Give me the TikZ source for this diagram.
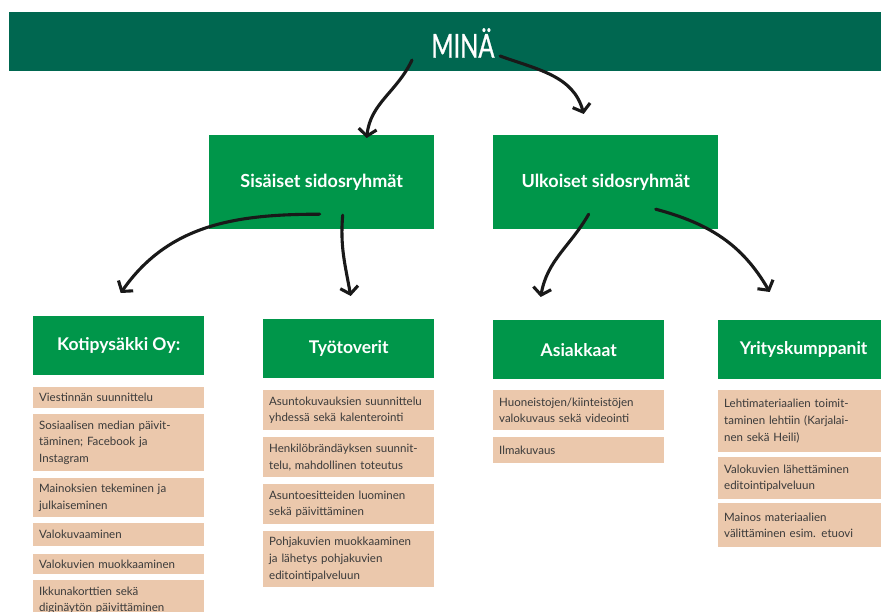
\documentclass[tikz,border=0pt]{standalone}
\usepackage{fontspec}
\setmainfont{Lato}
\newfontfamily\narrowfont[FakeStretch=0.72, FakeBold=0.8]{Lato}
\usetikzlibrary{positioning}
\usetikzlibrary{calc}
\usetikzlibrary{arrows.meta}
\definecolor{bannergreen}{HTML}{006750}
\definecolor{groupgreen}{HTML}{00964A}
\definecolor{taskbeige}{HTML}{EBC8AC}
\definecolor{inkgray}{HTML}{3A3A3A}
\tikzset{
	group/.style={fill=groupgreen, text=white, anchor=north west, inner sep=0pt, align=center,
		font=\bfseries\fontsize{17.5}{20}\selectfont},
	task/.style={fill=taskbeige, text=inkgray, anchor=north west, inner xsep=6pt, inner ysep=2pt,
		text width=159pt, align=left, font=\fontsize{11.5}{16.7}\selectfont},
	sketch/.style={line width=3.1pt, draw=black!90, line cap=round,
		-{Straight Barb[length=7pt,width=18pt]}}
}
\newcommand{\taskbox}[5]{
	\node[task, minimum height=#4] (#1) at (#2,-#3) {#5};
}

\begin{document}
\begin{tikzpicture}[x=1pt, y=1pt]
	\clip (0,0) rectangle (881,-612);

	%top banner
	\fill[bannergreen] (9,-12) rectangle (881,-71);
	\node[text=white, font=\narrowfont\fontsize{33}{36}\selectfont] (mina) at (463,-43) {MINÄ};

	%the two main groups
	\node[group, minimum width=225, minimum height=94, font=\bfseries\fontsize{18}{20}\selectfont] (sis) at (209,-135) {Sisäiset sidosryhmät};
	\node[group, minimum width=225, minimum height=94, font=\bfseries\fontsize{18}{20}\selectfont] (ulk) at (493,-135) {Ulkoiset sidosryhmät};

	%sub groups
	\node[group, minimum width=171, minimum height=59] (koti) at (33,-316) {Kotipysäkki Oy:};
	\node[group, minimum width=171, minimum height=59] (tyo) at (263,-319) {Työtoverit};
	\node[group, minimum width=171, minimum height=59] (asi) at (493,-320) {Asiakkaat};
	\node[group, minimum width=171, minimum height=59] (yri) at (718,-320) {Yrityskumppanit};

	%tasks, Kotipysäkki Oy
	\taskbox{k1}{33}{387}{21}{Viestinnän suunnittelu}
	\taskbox{k2}{33}{414}{57}{Sosiaalisen median päivit-\\täminen; Facebook ja\\Instagram}
	\taskbox{k3}{33}{478}{39}{Mainoksien tekeminen ja\\julkaiseminen}
	\taskbox{k4}{33}{523}{23}{Valokuvaaminen}
	\taskbox{k5}{33}{554}{20}{Valokuvien muokkaaminen}
	\taskbox{k6}{33}{580}{40}{Ikkunakorttien sekä\\diginäytön päivittäminen}

	%tasks, Työtoverit
	\taskbox{t1}{263}{390}{40}{Asuntokuvauksien suunnittelu\\yhdessä sekä kalenterointi}
	\taskbox{t2}{263}{437}{40}{Henkilöbrändäyksen suunnit-\\telu, mahdollinen toteutus}
	\taskbox{t3}{263}{484}{40}{Asuntoesitteiden luominen\\sekä päivittäminen}
	\taskbox{t4}{263}{531}{56}{Pohjakuvien muokkaaminen\\ja lähetys pohjakuvien\\editointipalveluun}

	%tasks, Asiakkaat
	\taskbox{a1}{493}{390}{40}{Huoneistojen/kiinteistöjen\\valokuvaus sekä videointi}
	\taskbox{a2}{493}{437}{26}{Ilmakuvaus}

	%tasks, Yrityskumppanit
	\taskbox{y1}{718}{390}{62}{Lehtimateriaalien toimit-\\taminen lehtiin (Karjalai-\\nen sekä Heili)}
	\taskbox{y2}{718}{457}{42}{Valokuvien lähettäminen\\editointipalveluun}
	\taskbox{y3}{718}{503}{44}{Mainos materiaalien\\välittäminen esim. etuovi}

	%hand drawn arrows
	\draw[sketch] ($(mina)+(-51,-17)$) to[out=-115, in=84] ($(sis.north)+(45,-3)$);
	\draw[sketch] ($(mina)+(37,-13)$) to[out=-20, in=105] ($(ulk.north)+(-22,21)$);
	\draw[sketch] ($(sis)+(-2,-32)$) to[out=180, in=55] ($(koti.north)+(2,23)$);
	\draw[sketch] ($(sis)+(21,-33)$) to[out=-95, in=100] ($(tyo.north)+(2,23)$);
	\draw[sketch] ($(ulk)+(-17,-32)$) to[out=-120, in=80] ($(asi.north)+(-38,23)$);
	\draw[sketch] ($(ulk)+(50,-27)$) to[out=-15, in=120] ($(yri.north)+(-34,28)$);
\end{tikzpicture}
\end{document}
